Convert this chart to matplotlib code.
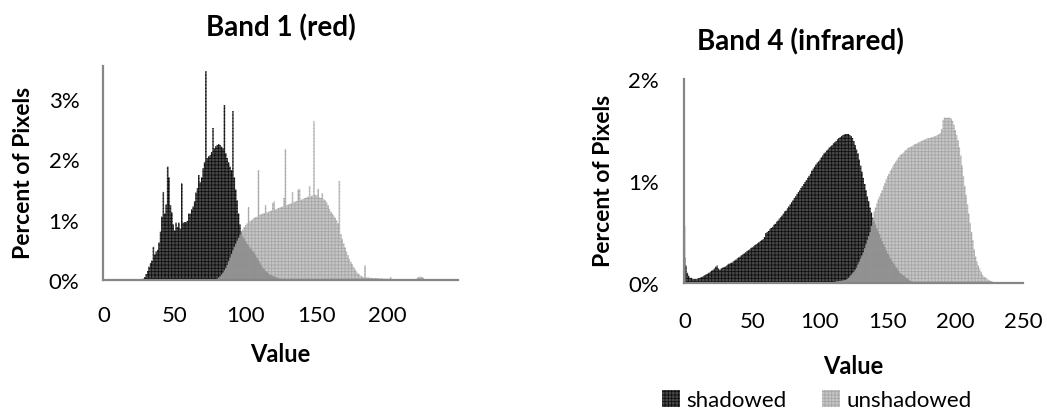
import numpy as np
import matplotlib
matplotlib.use("Agg")
import matplotlib.pyplot as plt
from matplotlib.patches import Patch

plt.rcParams['font.family'] = ['Lato', 'DejaVu Sans']
plt.rcParams['hatch.linewidth'] = 0.6

# ---------------- data (percent of pixels per value) ----------------
values = np.arange(256)

# Band 1 (red) - shadowed, starting at value 28
b1_shadowed_start = 28
b1_shadowed = [0.02, 0.05, 0.10, 0.15, 0.22, 0.28, 0.32, 0.55, 0.42, 0.47,   # 28-37
               0.50, 0.62, 0.80, 1.05, 1.46, 1.10, 1.25, 1.88, 1.70, 1.24,   # 38-47
               1.12, 0.92, 0.82, 0.95, 0.88, 0.95, 0.85, 1.60, 0.95, 0.96,   # 48-57
               0.96, 0.98, 1.10, 1.10, 1.17, 1.22, 1.30, 1.45, 1.52, 1.74,   # 58-67
               1.62, 1.70, 1.85, 1.95, 3.46, 2.02, 2.05, 2.07, 2.12, 2.52,   # 68-77
               2.18, 2.22, 2.24, 2.25, 2.24, 2.21, 2.18, 2.90, 2.10, 2.02,   # 78-87
               1.95, 1.88, 1.82, 2.80, 1.70, 1.50, 1.32, 1.10, 0.92, 0.80,   # 88-97
               0.72, 0.68, 0.64, 0.60, 0.57, 0.54, 0.51, 0.48, 0.45, 0.41,   # 98-107
               0.37, 0.33, 0.29, 0.25, 0.21, 0.18, 0.15, 0.13, 0.11, 0.09,   # 108-117
               0.08, 0.07, 0.06, 0.05, 0.04, 0.03, 0.02, 0.01]              # 118-125

# Band 1 (red) - unshadowed, starting at value 80
b1_unshadowed_start = 80
b1_unshadowed = [0.02, 0.04, 0.06, 0.09, 0.12, 0.16, 0.20, 0.25, 0.31, 0.37,  # 80-89
                 0.43, 0.49, 0.55, 0.60, 0.65, 0.70, 0.75, 0.80, 0.84, 0.88,  # 90-99
                 0.91, 0.94, 1.21, 0.97, 0.99, 1.01, 1.03, 1.04, 1.05, 1.82,  # 100-109
                 1.08, 1.09, 1.10, 1.11, 1.24, 1.12, 1.13, 1.14, 1.15, 1.28,  # 110-119
                 1.30, 1.17, 1.18, 1.19, 1.20, 1.21, 1.22, 1.36, 2.17, 1.24,  # 120-129
                 1.25, 1.26, 1.27, 1.46, 1.29, 1.30, 1.31, 1.50, 1.51, 1.33,  # 130-139
                 1.34, 1.35, 1.36, 1.37, 1.38, 1.56, 1.39, 1.40, 2.63, 1.41,  # 140-149
                 1.40, 1.51, 1.37, 1.36, 1.44, 1.34, 1.32, 1.29, 1.24, 1.18,  # 150-159
                 1.13, 1.10, 1.07, 1.03, 0.99, 0.94, 1.64, 0.76, 0.68, 0.61,  # 160-169
                 0.54, 0.47, 0.41, 0.35, 0.30, 0.26, 0.22, 0.18, 0.14, 0.11,  # 170-179
                 0.09, 0.07, 0.06, 0.05, 0.24, 0.045, 0.04, 0.04, 0.035, 0.035,  # 180-189
                 0.03, 0.03, 0.03, 0.03, 0.025, 0.025, 0.025, 0.02, 0.02, 0.02,  # 190-199
                 0.02, 0.02, 0.05, 0.015, 0.015, 0.015, 0.015, 0.015, 0.015, 0.015,  # 200-209
                 0.012, 0.012, 0.012, 0.012, 0.012, 0.01, 0.01, 0.01, 0.01, 0.01,  # 210-219
                 0.01, 0.04, 0.05, 0.06, 0.05, 0.04, 0.01, 0.01, 0.008, 0.008,  # 220-229
                 0.005, 0.005, 0.003, 0.003, 0.002]                              # 230-234

# Band 4 (infrared) - shadowed, starting at value 0
b4_shadowed_start = 0
b4_shadowed = [0.25, 0.17, 0.10, 0.07, 0.05, 0.05, 0.04, 0.04, 0.04, 0.04,   # 0-9
               0.045, 0.05, 0.055, 0.06, 0.07, 0.075, 0.085, 0.09, 0.10, 0.11,  # 10-19
               0.12, 0.13, 0.14, 0.16, 0.17, 0.14, 0.13, 0.14, 0.15, 0.155,  # 20-29
               0.16, 0.17, 0.18, 0.19, 0.195, 0.20, 0.21, 0.22, 0.23, 0.24,  # 30-39
               0.25, 0.26, 0.27, 0.28, 0.29, 0.30, 0.31, 0.32, 0.33, 0.34,   # 40-49
               0.35, 0.36, 0.37, 0.38, 0.39, 0.40, 0.41, 0.42, 0.43, 0.45,   # 50-59
               0.49, 0.50, 0.51, 0.53, 0.54, 0.55, 0.57, 0.58, 0.60, 0.61,   # 60-69
               0.63, 0.645, 0.66, 0.68, 0.70, 0.71, 0.73, 0.75, 0.77, 0.79,  # 70-79
               0.81, 0.83, 0.85, 0.87, 0.89, 0.91, 0.93, 0.95, 0.97, 0.99,   # 80-89
               1.01, 1.03, 1.05, 1.07, 1.10, 1.12, 1.14, 1.16, 1.18, 1.19,   # 90-99
               1.21, 1.23, 1.25, 1.27, 1.28, 1.30, 1.31, 1.33, 1.34, 1.35,   # 100-109
               1.37, 1.38, 1.39, 1.41, 1.42, 1.43, 1.44, 1.45, 1.455, 1.46,  # 110-119
               1.46, 1.46, 1.45, 1.44, 1.42, 1.39, 1.35, 1.31, 1.27, 1.21,   # 120-129
               1.15, 1.09, 1.03, 0.97, 0.91, 0.85, 0.80, 0.74, 0.69, 0.64,   # 130-139
               0.60, 0.57, 0.54, 0.51, 0.48, 0.44, 0.41, 0.38, 0.35, 0.32,   # 140-149
               0.29, 0.27, 0.24, 0.22, 0.20, 0.18, 0.16, 0.14, 0.12, 0.10,   # 150-159
               0.09, 0.08, 0.07, 0.06, 0.05, 0.04, 0.03, 0.02, 0.015, 0.01,  # 160-169
               0.005]                                                        # 170

# Band 4 (infrared) - unshadowed: value 0 spike, then main hump from 101
b4_unshadowed_zero = 0.56
b4_unshadowed_start = 101
b4_unshadowed = [0.003, 0.003, 0.003, 0.004, 0.005, 0.006, 0.007, 0.008, 0.009,  # 101-109
                 0.01, 0.012, 0.014, 0.016, 0.018, 0.02, 0.022, 0.025, 0.028, 0.03,  # 110-119
                 0.04, 0.05, 0.065, 0.08, 0.095, 0.11, 0.13, 0.15, 0.18, 0.21,   # 120-129
                 0.24, 0.27, 0.30, 0.34, 0.38, 0.42, 0.46, 0.50, 0.56, 0.63,     # 130-139
                 0.70, 0.74, 0.78, 0.82, 0.85, 0.88, 0.91, 0.95, 0.98, 1.02,     # 140-149
                 1.05, 1.07, 1.10, 1.12, 1.15, 1.17, 1.19, 1.21, 1.23, 1.25,     # 150-159
                 1.26, 1.27, 1.28, 1.30, 1.31, 1.32, 1.33, 1.335, 1.34, 1.35,    # 160-169
                 1.36, 1.365, 1.37, 1.38, 1.385, 1.39, 1.40, 1.405, 1.41, 1.415, # 170-179
                 1.42, 1.42, 1.425, 1.43, 1.435, 1.44, 1.445, 1.45, 1.46, 1.47,  # 180-189
                 1.51, 1.60, 1.62, 1.62, 1.62, 1.62, 1.62, 1.61, 1.59, 1.55,     # 190-199
                 1.50, 1.45, 1.40, 1.33, 1.25, 1.15, 1.05, 0.95, 0.86, 0.77,     # 200-209
                 0.68, 0.59, 0.50, 0.42, 0.33, 0.26, 0.21, 0.17, 0.14, 0.11,     # 210-219
                 0.08, 0.065, 0.055, 0.045, 0.035, 0.03, 0.02, 0.015, 0.01, 0.008,  # 220-229
                 0.005, 0.003, 0.003, 0.003]                                     # 230-233

series_names = ["shadowed", "unshadowed"]


def full(start, vals):
    arr = np.zeros(256)
    arr[start:start + len(vals)] = vals
    return arr


b1_s = full(b1_shadowed_start, b1_shadowed)
b1_u = full(b1_unshadowed_start, b1_unshadowed)
b4_s = full(b4_shadowed_start, b4_shadowed)
b4_u = full(b4_unshadowed_start, b4_unshadowed)
b4_u[0] = b4_unshadowed_zero

# ---------------- styling ----------------
W, H = 1047, 414
fig = plt.figure(figsize=(W / 100, H / 100), dpi=100)

DARK = dict(facecolor='#4a4a4a', edgecolor='#101010', hatch='+++++', linewidth=0)
LIGHT = dict(facecolor='#b0b0b0', edgecolor='#9a9a9a', hatch='+++++', linewidth=0, alpha=0.72)
AXC = '#868686'


def px_axes(x0, y_top, x1, y_bot):
    return fig.add_axes([x0 / W, 1 - y_bot / H, (x1 - x0) / W, (y_bot - y_top) / H])


def style(ax, ymax, yticks, xticks, xmax, xpad, ypad):
    ax.set_xlim(-0.5, xmax)
    ax.set_ylim(0, ymax)
    for s in ['top', 'right']:
        ax.spines[s].set_visible(False)
    for s in ['left', 'bottom']:
        ax.spines[s].set_color(AXC)
        ax.spines[s].set_linewidth(1.6)
    ax.set_yticks(yticks)
    ax.set_yticklabels([f"{int(t)}%" for t in yticks])
    ax.set_xticks(xticks)
    ax.set_xticklabels([str(t) for t in xticks])
    ax.tick_params(axis='both', length=0, labelsize=16, colors='black')
    ax.tick_params(axis='x', pad=xpad)
    ax.tick_params(axis='y', pad=ypad)


def draw(ax, s, u):
    ax.fill_between(values, 0, s, step='mid', **DARK)
    ax.fill_between(values, 0, u, step='mid', **LIGHT)


# Left chart: Band 1
ax1 = px_axes(103, 281 - 3.55 * 60.3, 458, 281)
draw(ax1, b1_s, b1_u)
style(ax1, 3.55, [0, 1, 2, 3], [0, 50, 100, 150, 200], 249.5, 18, 17)

# Right chart: Band 4
ax2 = px_axes(684, 80, 1023, 284)
draw(ax2, b4_s, b4_u)
style(ax2, 2.0, [0, 1, 2], [0, 50, 100, 150, 200, 250], 250, 20, 18)


def ftext(x, y, s, **kw):
    fig.text(x / W, 1 - y / H, s, ha='center', va='center', **kw)


ftext(281, 28, "Band 1 (red)", fontsize=20, fontweight='bold')
ftext(800, 42, "Band 4 (infrared)", fontsize=20, fontweight='bold')
ftext(24, 173, "Percent of Pixels", fontsize=16.5, fontweight='bold', rotation=90)
ftext(604, 181, "Percent of Pixels", fontsize=16.5, fontweight='bold', rotation=90)
ftext(280, 355, "Value", fontsize=17, fontweight='bold')
ftext(853, 367, "Value", fontsize=17, fontweight='bold')

handles = [Patch(**DARK), Patch(**LIGHT)]
fig.legend(handles, series_names, loc='center', bbox_to_anchor=(817 / W, 1 - 401 / H),
           ncol=2, frameon=False, fontsize=16, handlelength=0.8, handleheight=0.8,
           handletextpad=0.3, columnspacing=1.6)

fig.savefig("out.png", dpi=100)
